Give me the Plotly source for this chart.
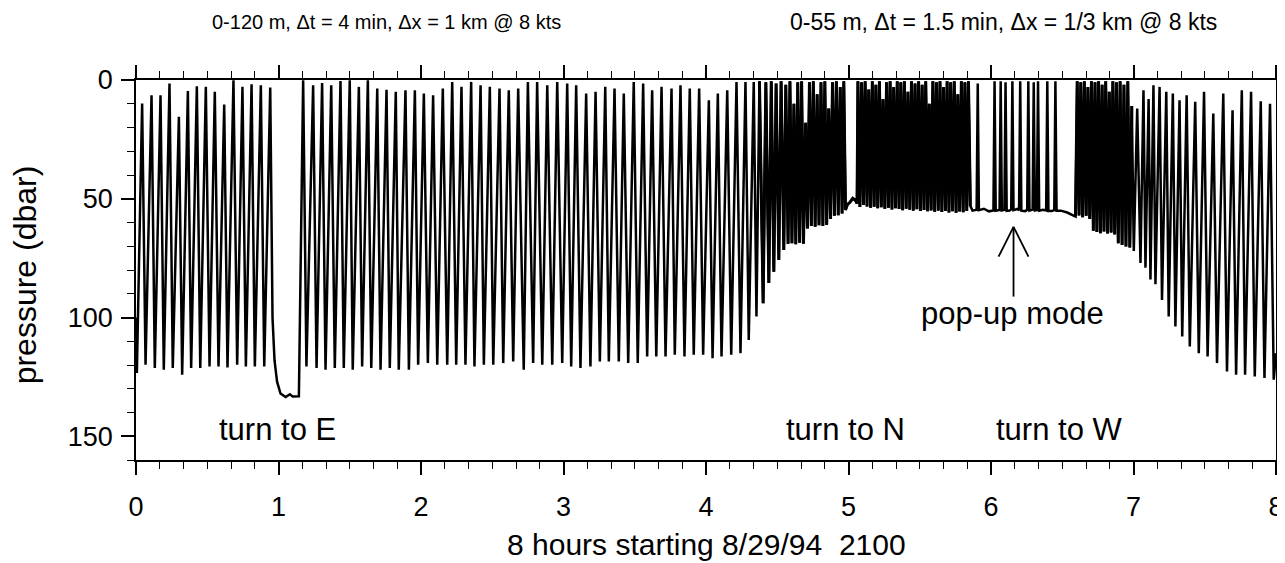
import plotly.graph_objects as go

# ---------------- data (hours since 8/29/94 2100, pressure in dbar) ----------------
# section 1: 0-120 m tow-yo up to the turn to E
sec1_t = [0.000, 0.006, 0.043, 0.067, 0.109, 0.132, 0.172, 0.195, 0.235, 0.258,
          0.301, 0.324, 0.364, 0.387, 0.427, 0.451, 0.490, 0.516, 0.553, 0.579,
          0.619, 0.642, 0.684, 0.710, 0.747, 0.771, 0.811, 0.834, 0.876, 0.900,
          0.942]
sec1_p = [100.0, 123.4, 9.9, 119.9, 6.4, 121.3, 6.4, 122.0, 1.5, 121.3,
          15.5, 124.1, 4.6, 121.3, 2.6, 121.3, 2.9, 120.6, 5.0, 120.6,
          10.3, 121.0, 0.1, 119.9, 2.9, 120.6, 1.8, 120.6, 2.2, 120.6,
          3.2]
# turn to E (instrument held deep)
turnE_t = [0.958, 0.972, 0.990, 1.014, 1.050, 1.080, 1.100, 1.143]
turnE_p = [100.0, 118.0, 127.0, 132.0, 133.5, 132.3, 133.3, 133.2]

# section 2: 0-120 m cycles after the turn (peaks and troughs)
sec2_peak_t = [1.173, 1.243, 1.306, 1.370, 1.435, 1.500, 1.564, 1.627, 1.693, 1.758,
               1.823, 1.891, 1.957, 2.020, 2.085, 2.153, 2.219, 2.284, 2.352, 2.418,
               2.483, 2.551, 2.616, 2.682, 2.750, 2.815, 2.886, 2.956, 3.026, 3.089,
               3.159, 3.225, 3.293, 3.358, 3.423, 3.493, 3.559, 3.622, 3.688, 3.758,
               3.821, 3.886, 3.952, 4.020, 4.083, 4.149, 4.214, 4.277, 4.335]
sec2_peak_p = [0.1, 2.2, 1.3, 2.2, 0.4, 0.1, 2.9, 0.1, 3.6, 4.1,
               5.0, 4.3, 4.3, 5.7, 6.4, 3.6, 0.8, 2.9, 0.8, 2.2,
               2.9, 3.6, 4.3, 3.6, 0.8, 0.8, 2.2, 0.8, 1.5, 2.2,
               5.7, 5.0, 2.9, 3.6, 5.7, 0.8, 1.5, 4.3, 2.9, 3.6,
               2.2, 3.6, 3.6, 8.5, 5.7, 4.3, 0.8, 0.8, 0.8]
sec2_trough_t = [1.196, 1.267, 1.330, 1.395, 1.458, 1.521, 1.587, 1.651, 1.716, 1.781,
                 1.844, 1.915, 1.980, 2.048, 2.114, 2.184, 2.247, 2.312, 2.375, 2.441,
                 2.507, 2.577, 2.647, 2.721, 2.787, 2.851, 2.921, 2.991, 3.054, 3.119,
                 3.189, 3.255, 3.318, 3.388, 3.454, 3.521, 3.587, 3.651, 3.716, 3.781,
                 3.849, 3.914, 3.980, 4.046, 4.109, 4.177, 4.242, 4.300, 4.354]
sec2_trough_p = [120.6, 121.3, 122.0, 121.3, 121.3, 122.0, 120.6, 121.3, 122.0, 121.3,
                 122.0, 122.0, 119.9, 119.2, 119.9, 119.9, 119.9, 119.9, 120.6, 119.9,
                 119.9, 119.2, 118.5, 122.0, 119.2, 119.9, 119.9, 119.2, 120.6, 121.3,
                 120.6, 118.5, 118.5, 118.5, 119.2, 119.2, 116.4, 116.4, 116.4, 115.7,
                 116.4, 115.7, 115.7, 117.1, 116.4, 115.7, 115.0, 109.5, 99.6]

# section 3: transition to 0-55 m cycles, then turn to N
sec3_t = [4.375, 4.401, 4.420, 4.441, 4.458, 4.476, 4.492, 4.511, 4.527, 4.546,
          4.560, 4.576, 4.589, 4.603, 4.617, 4.630, 4.644, 4.657, 4.671, 4.684,
          4.699, 4.712, 4.726, 4.739, 4.753, 4.766, 4.780, 4.793, 4.807, 4.820,
          4.834, 4.847, 4.861, 4.874, 4.888, 4.901, 4.915, 4.928, 4.942, 4.955,
          4.967, 4.979, 4.992, 5.010, 5.030, 5.048, 5.060]
sec3_p = [0.5, 94.0, 1.0, 85.5, 0.5, 80.7, 1.5, 75.8, 0.5, 71.6,
          2.0, 69.0, 0.5, 68.7, 10.0, 69.2, 1.0, 68.5, 0.5, 68.9,
          18.0, 62.5, 1.0, 61.5, 0.5, 61.8, 6.0, 61.2, 1.0, 61.5,
          0.5, 61.0, 12.0, 58.5, 1.0, 57.2, 0.5, 56.9, 3.0, 56.2,
          0.5, 54.7, 52.5, 51.5, 49.8, 50.6, 52.0]

# section 4: 0-55 m cycles, 1.5 min
sec4_t = [5.066, 5.080, 5.092, 5.105, 5.117, 5.130, 5.142, 5.155, 5.167, 5.180,
          5.192, 5.205, 5.217, 5.230, 5.242, 5.255, 5.267, 5.280, 5.292, 5.305,
          5.317, 5.330, 5.342, 5.355, 5.367, 5.380, 5.392, 5.405, 5.417, 5.430,
          5.442, 5.455, 5.467, 5.480, 5.492, 5.505, 5.517, 5.530, 5.542, 5.555,
          5.567, 5.580, 5.592, 5.605, 5.617, 5.630, 5.642, 5.655, 5.667, 5.680,
          5.692, 5.705, 5.717, 5.730, 5.742, 5.755, 5.767, 5.780, 5.792, 5.805,
          5.817, 5.830, 5.842, 5.855]
sec4_p = [0.5, 53.5, 1.0, 52.6, 0.5, 53.3, 4.0, 53.8, 0.5, 53.4,
          2.0, 54.0, 0.5, 53.6, 8.0, 54.2, 1.0, 53.8, 0.5, 54.5,
          3.0, 54.0, 0.5, 54.3, 1.0, 54.8, 0.5, 54.2, 5.0, 54.6,
          0.5, 55.0, 1.5, 54.4, 0.5, 55.2, 2.0, 54.7, 0.5, 55.3,
          10.0, 54.9, 0.5, 55.5, 1.0, 55.0, 0.5, 55.6, 3.0, 55.2,
          0.5, 55.8, 1.0, 55.3, 0.5, 55.9, 6.0, 55.4, 0.5, 55.7,
          1.0, 55.2, 0.5, 53.0]

# pop-up mode (turn to W)
popup_t = [5.870, 5.899, 5.907, 5.915, 5.950, 5.985, 6.017, 6.025, 6.033, 6.060,
           6.068, 6.076, 6.094, 6.102, 6.110, 6.130, 6.142, 6.150, 6.158, 6.185,
           6.197, 6.205, 6.213, 6.240, 6.254, 6.262, 6.270, 6.292, 6.300, 6.308,
           6.322, 6.330, 6.338, 6.365, 6.387, 6.395, 6.403, 6.425, 6.444, 6.452,
           6.460, 6.490, 6.535, 6.570]
popup_p = [55.0, 54.6, 1.5, 54.8, 54.2, 55.3, 54.9, 0.5, 55.0, 54.7,
           0.5, 54.9, 54.6, 1.0, 55.1, 55.0, 54.5, 0.5, 54.8, 54.3,
           54.8, 0.5, 55.0, 55.2, 54.7, 0.5, 55.0, 54.6, 1.0, 54.9,
           54.7, 0.5, 55.0, 54.6, 54.9, 0.5, 55.2, 55.2, 54.8, 0.5,
           55.0, 55.0, 55.8, 56.8]

# section 5: 0-55 m cycles after the pop-up mode
sec5_t = [6.593, 6.605, 6.618, 6.630, 6.643, 6.655, 6.668, 6.680, 6.693, 6.705,
          6.718, 6.730, 6.743, 6.755, 6.768, 6.780, 6.793, 6.805, 6.818, 6.830,
          6.843, 6.855, 6.868, 6.880, 6.893, 6.906, 6.920, 6.933, 6.947, 6.960,
          6.974, 6.988]
sec5_p = [57.5, 0.5, 57.0, 1.0, 57.8, 0.5, 57.2, 3.0, 58.5, 0.5,
          63.5, 1.0, 64.0, 0.5, 64.5, 2.0, 63.8, 0.5, 64.6, 5.0,
          64.2, 0.5, 65.0, 1.0, 68.7, 0.5, 69.5, 2.0, 70.1, 0.5,
          70.5, 11.0]

# section 6: back to deep cycles
sec6_t = [7.002, 7.026, 7.049, 7.070, 7.084, 7.106, 7.119, 7.140, 7.154, 7.183,
          7.200, 7.230, 7.247, 7.276, 7.294, 7.323, 7.342, 7.373, 7.395, 7.433,
          7.458, 7.495, 7.520, 7.560, 7.586, 7.630, 7.656, 7.695, 7.720, 7.760,
          7.783, 7.825, 7.851, 7.893, 7.919, 7.958, 7.984, 8.000]
sec6_p = [72.0, 12.0, 77.0, 4.3, 79.0, 8.0, 84.0, 2.2, 86.0, 2.9,
          92.6, 5.0, 99.6, 5.7, 103.8, 8.5, 108.0, 6.4, 112.2, 9.2,
          115.0, 5.0, 116.4, 14.1, 119.2, 5.7, 122.7, 12.7, 124.1, 4.3,
          124.1, 5.0, 124.8, 9.0, 125.5, 10.0, 126.2, 115.0]

x_ticks = [0, 1, 2, 3, 4, 5, 6, 7, 8]
y_ticks = [0, 50, 100, 150]

title_left = "0-120 m, \u0394t = 4 min, \u0394x = 1 km @ 8 kts"
title_right = "0-55 m, \u0394t = 1.5 min, \u0394x = 1/3 km @ 8 kts"
x_label = "8 hours starting 8/29/94\u00a0 2100"
y_label = "pressure (dbar)"

# ---------------- assemble trace ----------------
sec2 = sorted(zip(sec2_peak_t + sec2_trough_t, sec2_peak_p + sec2_trough_p))
sec2_t = [a for a, b in sec2]
sec2_p = [b for a, b in sec2]

t_all = sec1_t + turnE_t + sec2_t + sec3_t + sec4_t + popup_t + sec5_t + sec6_t
p_all = sec1_p + turnE_p + sec2_p + sec3_p + sec4_p + popup_p + sec5_p + sec6_p

# the fast 1.5-min cycling is drawn a little heavier (it prints nearly solid)
t_fast = sec3_t + sec4_t + [None] + sec5_t
p_fast = sec3_p + sec4_p + [None] + sec5_p

FONT = "Liberation Sans, Arial, Helvetica, sans-serif"

fig = go.Figure()
fig.add_trace(go.Scatter(x=t_all, y=p_all, mode="lines",
                         line=dict(color="black", width=2.5),
                         hoverinfo="skip", showlegend=False))
fig.add_trace(go.Scatter(x=t_fast, y=p_fast, mode="lines",
                         line=dict(color="black", width=3.0),
                         hoverinfo="skip", showlegend=False, connectgaps=False))

axis_common = dict(showline=True, linecolor="black", linewidth=1.5, mirror="allticks",
                   ticks="outside", tickcolor="black", tickwidth=1.5, ticklen=13,
                   showgrid=False, zeroline=False, automargin=False,
                   tickfont=dict(family=FONT, size=27, color="black"))
fig.update_xaxes(range=[0, 8], tickvals=x_ticks, ticklabelstandoff=9,
                 minor=dict(dtick=1 / 6, tick0=0, ticks="outside", ticklen=7,
                            tickwidth=1.2, tickcolor="black", showgrid=False),
                 **axis_common)
fig.update_yaxes(range=[160, 0], tickvals=y_ticks, ticklabelstandoff=3,
                 minor=dict(dtick=10, tick0=0, ticks="outside", ticklen=7,
                            tickwidth=1.2, tickcolor="black", showgrid=False),
                 **axis_common)

ann_font = dict(family=FONT, size=31, color="black")
center = dict(showarrow=False, xanchor="center", yanchor="middle")
annotations = [
    dict(x=0.991, y=147, xref="x", yref="y", text="turn to E", font=ann_font, **center),
    dict(x=4.98, y=147, xref="x", yref="y", text="turn to N", font=ann_font, **center),
    dict(x=6.474, y=147, xref="x", yref="y", text="turn to W", font=ann_font, **center),
    dict(x=6.151, y=98.5, xref="x", yref="y", text="pop-up mode", font=ann_font, **center),
    dict(x=1.76, y=1.152, xref="x", yref="paper", text=title_left,
         font=dict(family=FONT, size=20, color="black"), **center),
    dict(x=6.09, y=1.152, xref="x", yref="paper", text=title_right,
         font=dict(family=FONT, size=23, color="black"), **center),
    dict(x=0.5, y=-0.2225, xref="paper", yref="paper", text=x_label,
         font=dict(family=FONT, size=30, color="black"), **center),
    dict(x=-0.097, y=0.487, xref="paper", yref="paper", text=y_label, textangle=-90,
         font=dict(family=FONT, size=32, color="black"), **center),
]
fig.update_layout(annotations=annotations)

# open arrow pointing at the pop-up bottom line
arrow = dict(type="line", xref="x", yref="y", line=dict(color="black", width=1.8))
fig.add_shape(x0=6.158, x1=6.158, y0=91.2, y1=61.8, **arrow)
fig.add_shape(x0=6.053, x1=6.158, y0=74.4, y1=61.8, **arrow)
fig.add_shape(x0=6.263, x1=6.158, y0=74.4, y1=61.8, **arrow)

# the page body adds an 8 px offset; plot area spans 135.5-1276 x 79.7-460 on screen
fig.update_layout(width=1277, height=555,
                  margin=dict(l=127.5, r=9, t=71.7, b=103),
                  paper_bgcolor="white", plot_bgcolor="white")

fig.write_html("out.html")
